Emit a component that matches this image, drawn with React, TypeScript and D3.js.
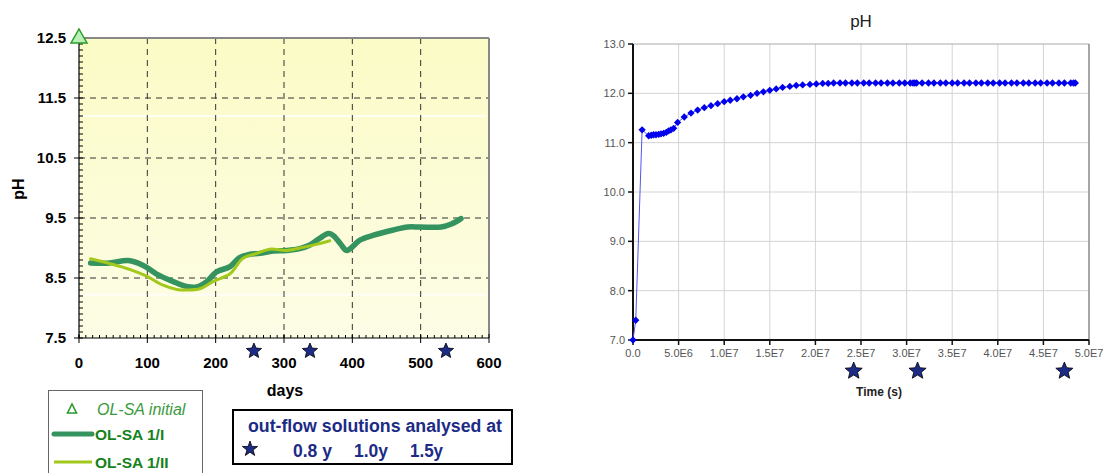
import * as React from 'react';
import * as d3 from 'd3';

// ---- left chart (measured, days vs pH) ----
const daysTicks = [0, 100, 200, 300, 400, 500, 600];
const phTicksLeft = [7.5, 8.5, 9.5, 10.5, 11.5, 12.5];

const sa1Days = [17, 45, 72, 94, 113, 138, 157, 172, 187, 201, 221, 235, 248, 265, 284, 304, 323, 338, 352, 365, 372, 382, 391, 396, 411, 430, 460, 481, 499, 530, 545, 559];
const sa1Ph = [8.75, 8.75, 8.79, 8.71, 8.57, 8.44, 8.36, 8.35, 8.44, 8.60, 8.69, 8.84, 8.89, 8.91, 8.95, 8.96, 8.99, 9.05, 9.16, 9.24, 9.21, 9.08, 8.96, 8.98, 9.13, 9.21, 9.30, 9.35, 9.35, 9.35, 9.40, 9.49];

const sa2Days = [17, 45, 75, 99, 123, 143, 157, 177, 196, 221, 240, 260, 279, 304, 328, 347, 367];
const sa2Ph = [8.82, 8.74, 8.64, 8.53, 8.38, 8.31, 8.30, 8.32, 8.44, 8.57, 8.83, 8.91, 8.98, 8.96, 9.01, 9.06, 9.12];

const initialDay = 0;
const initialPh = 12.5;

const sampleDays = [256, 338, 537];
const sampleLabels = ['0.8 y', '1.0y', '1.5y'];

// ---- right chart (model, seconds vs pH), time in 1e6 s ----
const timeTicks = [0, 5, 10, 15, 20, 25, 30, 35, 40, 45, 50];
const timeTickLabels = ['0.0', '5.0E6', '1.0E7', '1.5E7', '2.0E7', '2.5E7', '3.0E7', '3.5E7', '4.0E7', '4.5E7', '5.0E7'];
const phTicksRight = [7, 8, 9, 10, 11, 12, 13];

const modelTime = [0, 0.3, 1.0, 1.72, 2.0, 2.26, 2.52, 2.81, 3.07, 3.36, 3.65, 3.91, 4.16, 4.46, 4.89, 5.62, 6.36, 7.09, 7.82, 8.55, 9.28, 10.0, 10.66, 11.4, 12.1, 12.9, 13.6, 14.3, 15.0, 15.7, 16.4, 17.2, 17.9, 18.6, 19.4, 20.1, 20.8, 21.4,
  22.0, 22.7, 23.3, 24.0, 24.6, 25.3, 25.9, 26.6, 27.2, 27.9, 28.5, 29.2, 29.8, 30.4, 30.7, 30.9, 31.1, 31.7, 32.4, 33.0, 33.7, 34.3, 35.0, 35.6, 36.3, 36.9, 37.6, 38.2, 38.9, 39.5, 40.2, 40.8, 41.5, 42.1, 42.8, 43.4, 44.1, 44.7, 45.4, 46.0, 46.7, 47.3, 48.0, 48.3, 48.5];
const modelPh = [7.0, 7.4, 11.26, 11.14, 11.15, 11.16, 11.16, 11.17, 11.18, 11.19, 11.21, 11.24, 11.26, 11.29, 11.41, 11.52, 11.60, 11.66, 11.71, 11.75, 11.79, 11.83, 11.86, 11.89, 11.93, 11.96, 12.00, 12.03, 12.06, 12.09, 12.12, 12.14, 12.16, 12.17, 12.18, 12.19, 12.20, 12.20,
  12.21, 12.21, 12.21, 12.21, 12.21, 12.21, 12.21, 12.21, 12.21, 12.21, 12.21, 12.21, 12.21, 12.21, 12.21, 12.21, 12.21, 12.21, 12.21, 12.21, 12.21, 12.21, 12.21, 12.21, 12.21, 12.21, 12.21, 12.21, 12.21, 12.21, 12.21, 12.21, 12.21, 12.21, 12.21, 12.21, 12.21, 12.21, 12.21, 12.21, 12.21, 12.21, 12.21, 12.21, 12.21];

const sampleTimes = [24.2, 31.2, 47.3];

const darkGreen = '#35935f';
const lightGreen = '#a3c81c';
const navy = '#1b2b86';
const font = 'Liberation Sans, Arial, sans-serif';

const starPath = (cx: number, cy: number, ro: number, ri: number) => {
  const pts: [number, number][] = [];
  for (let i = 0; i < 10; i++) {
    const a = -Math.PI / 2 + (i * Math.PI) / 5;
    const r = i % 2 === 0 ? ro : ri;
    pts.push([cx + r * Math.cos(a), cy + r * Math.sin(a)]);
  }
  return 'M' + pts.map(p => p.join(',')).join('L') + 'Z';
};

const LeftChart = () => {
  const x = d3.scaleLinear().domain([0, 600]).range([79, 489]);
  const y = d3.scaleLinear().domain([7.5, 12.5]).range([338, 38]);

  const path = (xs: number[], ys: number[]) =>
    d3.line<number>().x(i => x(xs[i])).y(i => y(ys[i])).curve(d3.curveCatmullRom)(xs.map((_, i) => i)) || '';

  const minorY = d3.range(75, 125).map(v => v / 10);
  const minorX = d3.range(0, 600, 10);

  return (
    <g fontFamily={font}>
      <defs>
        <linearGradient id="bgL" x1="0" y1="0" x2="0" y2="1">
          <stop offset="0%" stopColor="#fbfbc6" />
          <stop offset="100%" stopColor="#fdfde6" />
        </linearGradient>
      </defs>
      <rect x={x(0)} y={y(12.5)} width={x(600) - x(0)} height={y(7.5) - y(12.5)} fill="url(#bgL)" />
      {[11.2, 8.22].map(v => (
        <line key={v} x1={x(5)} x2={x(595)} y1={y(v)} y2={y(v)} stroke="#fff" strokeWidth={2} opacity={0.8} />
      ))}
      {/* grid */}
      {phTicksLeft.slice(1, -1).map(v => (
        <line key={'gy' + v} x1={x(0)} x2={x(600)} y1={y(v)} y2={y(v)} stroke="#333" strokeDasharray="6,5" strokeWidth={1} />
      ))}
      {daysTicks.slice(1, -1).map(v => (
        <line key={'gx' + v} x1={x(v)} x2={x(v)} y1={y(12.5)} y2={y(7.5)} stroke="#333" strokeDasharray="6,5" strokeWidth={1} />
      ))}
      {/* frame */}
      <line x1={x(0)} x2={x(600)} y1={y(12.5)} y2={y(12.5)} stroke="#888" strokeWidth={2} />
      <line x1={x(600)} x2={x(600)} y1={y(12.5)} y2={y(7.5)} stroke="#888" strokeWidth={2} />
      <line x1={x(0)} x2={x(0)} y1={y(12.5)} y2={y(7.5)} stroke="#000" strokeWidth={1.2} />
      <line x1={x(0)} x2={x(600)} y1={y(7.5)} y2={y(7.5)} stroke="#000" strokeWidth={1.2} />
      {minorY.map(v => (
        <line key={'my' + v} x1={x(0)} x2={x(0) + 4} y1={y(v)} y2={y(v)} stroke="#000" strokeWidth={1} />
      ))}
      {minorX.map(v => (
        <line key={'mx' + v} x1={x(v)} x2={x(v)} y1={y(7.5)} y2={y(7.5) - 3} stroke="#000" strokeWidth={1} />
      ))}
      {phTicksLeft.map(v => (
        <line key={'ty' + v} x1={x(0) - 5} x2={x(0)} y1={y(v)} y2={y(v)} stroke="#000" strokeWidth={1} />
      ))}
      {daysTicks.map(v => (
        <line key={'tx' + v} x1={x(v)} x2={x(v)} y1={y(7.5) - 4} y2={y(7.5) + 5} stroke="#000" strokeWidth={1} />
      ))}
      {phTicksLeft.map(v => (
        <text key={'ly' + v} x={66} y={y(v) + 5} fontSize={15} fontWeight="bold" textAnchor="end">{v.toFixed(1)}</text>
      ))}
      {daysTicks.map(v => (
        <text key={'lx' + v} x={x(v)} y={368} fontSize={15} fontWeight="bold" textAnchor="middle">{v}</text>
      ))}
      <text x={285} y={396} fontSize={16} fontWeight="bold" textAnchor="middle">days</text>
      <text transform="translate(24,189) rotate(-90)" fontSize={16} fontWeight="bold" textAnchor="middle">pH</text>
      {/* series */}
      <path d={path(sa1Days, sa1Ph)} fill="none" stroke={darkGreen} strokeWidth={5.5} strokeLinejoin="round" strokeLinecap="round" />
      <path d={path(sa2Days, sa2Ph)} fill="none" stroke={lightGreen} strokeWidth={3} strokeLinejoin="round" strokeLinecap="round" />
      <path d={`M${x(initialDay)},${y(initialPh) - 9}L${x(initialDay) + 8},${y(initialPh) + 5}L${x(initialDay) - 8},${y(initialPh) + 5}Z`}
        fill="#b8f0b8" stroke="#2a9a2a" strokeWidth={1.5} />
      {sampleDays.map(d => (
        <path key={'s' + d} d={starPath(x(d), 351, 8, 3.6)} fill={navy} stroke="#000" strokeWidth={0.8} />
      ))}
      {/* legend 1 */}
      <rect x={48.5} y={390.5} width={154} height={100} fill="#fff" stroke="#666" strokeWidth={1} />
      <path d="M72,404L76.5,413L67.5,413Z" fill="none" stroke="#2a9a2a" strokeWidth={1.6} />
      <text x={97} y={415} fontSize={16} fontStyle="italic" fill="#3a9a3a">OL-SA initial</text>
      <line x1={54} x2={92} y1={434} y2={434} stroke={darkGreen} strokeWidth={5} strokeLinecap="round" />
      <text x={95} y={440} fontSize={15.5} fontWeight="bold" fill="#15821a">OL-SA 1/I</text>
      <line x1={54} x2={92} y1={462} y2={462} stroke={lightGreen} strokeWidth={3} />
      <text x={95} y={468} fontSize={15.5} fontWeight="bold" fill="#15821a">OL-SA 1/II</text>
      {/* legend 2 */}
      <rect x={233} y={410} width={279} height={54} fill="#fff" stroke="#000" strokeWidth={2} />
      <text x={248} y={432} fontSize={18} fontWeight="bold" fill={navy} textLength={254} lengthAdjust="spacingAndGlyphs">out-flow solutions analysed at</text>
      <path d={starPath(250, 449, 8, 3.2)} fill={navy} stroke="#000" strokeWidth={0.8} />
      {sampleLabels.map((t, i) => (
        <text key={t} x={[293, 354, 410][i]} y={457} fontSize={18} fontWeight="bold" fill={navy}
          textLength={[39, 34, 33][i]} lengthAdjust="spacingAndGlyphs">{t}</text>
      ))}
    </g>
  );
};

const RightChart = () => {
  const x = d3.scaleLinear().domain([0, 50]).range([633, 1089]);
  const y = d3.scaleLinear().domain([7, 13]).range([340, 44]);
  const line = d3.line<number>().x(i => x(modelTime[i])).y(i => y(modelPh[i]));
  const idx = modelTime.map((_, i) => i);
  const diamond = d3.symbol(d3.symbolDiamond2, 34)() || '';

  return (
    <g fontFamily={font}>
      <rect x={x(0)} y={y(13)} width={x(50) - x(0)} height={y(7) - y(13)} fill="#fff" />
      {phTicksRight.slice(0, -1).map(v => (
        <line key={'gy' + v} x1={x(0)} x2={x(50)} y1={y(v)} y2={y(v)} stroke="#d4d4d4" strokeWidth={1} />
      ))}
      {timeTicks.slice(1, -1).map(v => (
        <line key={'gx' + v} x1={x(v)} x2={x(v)} y1={y(13)} y2={y(7)} stroke="#d4d4d4" strokeWidth={1} />
      ))}
      <line x1={x(0)} x2={x(50)} y1={y(13)} y2={y(13)} stroke="#aaa" strokeWidth={1} />
      <line x1={x(50)} x2={x(50)} y1={y(13)} y2={y(7)} stroke="#888" strokeWidth={1.5} />
      <line x1={x(0)} x2={x(0)} y1={y(13)} y2={y(7)} stroke="#111" strokeWidth={2} />
      <line x1={x(0)} x2={x(50)} y1={y(7)} y2={y(7)} stroke="#111" strokeWidth={2} />
      {phTicksRight.map(v => (
        <g key={'ty' + v}>
          <line x1={x(0) - 5} x2={x(0)} y1={y(v)} y2={y(v)} stroke="#111" strokeWidth={1.5} />
          <text x={625} y={y(v) + 4} fontSize={11} fill="#555" textAnchor="end">{v.toFixed(1)}</text>
        </g>
      ))}
      {timeTicks.map((v, i) => (
        <g key={'tx' + v}>
          <line x1={x(v)} x2={x(v)} y1={y(7)} y2={y(7) + 5} stroke="#111" strokeWidth={1.5} />
          <text x={x(v)} y={357} fontSize={11} fill="#555" textAnchor="middle">{timeTickLabels[i]}</text>
        </g>
      ))}
      <text x={861} y={27} fontSize={17} textAnchor="middle" fill="#222">pH</text>
      <text x={879} y={396} fontSize={12} fontWeight="bold" textAnchor="middle" fill="#222">Time (s)</text>
      <path d={line(idx) || ''} fill="none" stroke="#5555ee" strokeWidth={1} />
      {idx.map(i => (
        <path key={i} d={diamond} transform={`translate(${x(modelTime[i])},${y(modelPh[i])})`} fill="#0000ee" />
      ))}
      {sampleTimes.map(t => (
        <path key={'st' + t} d={starPath(x(t), 371, 9, 4)} fill={navy} stroke="#000" strokeWidth={0.8} />
      ))}
    </g>
  );
};

export default function App() {
  return (
    <svg width={1103} height={473} style={{ position: 'absolute', left: 0, top: 0, background: '#fff' }}>
      <rect width={1103} height={473} fill="#fff" />
      <LeftChart />
      <RightChart />
    </svg>
  );
}
